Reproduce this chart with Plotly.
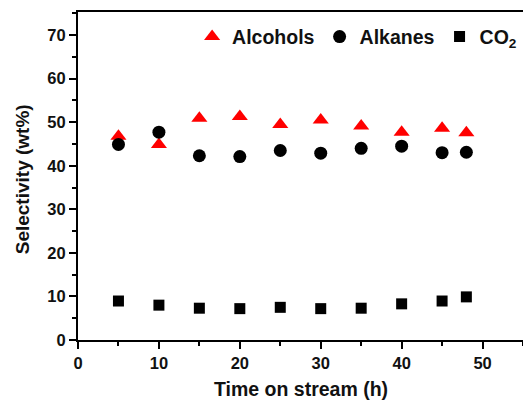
import plotly.graph_objects as go

time_h = [5, 10, 15, 20, 25, 30, 35, 40, 45, 48]
alcohols = [46.8, 44.9, 50.9, 51.3, 49.5, 50.5, 49.1, 47.7, 48.6, 47.6]
alkanes = [44.9, 47.7, 42.3, 42.1, 43.5, 42.9, 44.0, 44.5, 43.0, 43.1]
co2 = [8.95, 8.0, 7.3, 7.2, 7.5, 7.2, 7.3, 8.3, 8.95, 9.9]

x_ticks = [0, 10, 20, 30, 40, 50]
y_ticks = [0, 10, 20, 30, 40, 50, 60, 70]

FONT = "Liberation Sans, Arial, sans-serif"

fig = go.Figure()
fig.add_trace(go.Scatter(x=time_h, y=alcohols, mode="markers", name="Alcohols",
                         marker=dict(symbol="triangle-up", size=14, color="#ff0000")))
fig.add_trace(go.Scatter(x=time_h, y=alkanes, mode="markers", name="Alkanes",
                         marker=dict(symbol="circle", size=13, color="#000000")))
fig.add_trace(go.Scatter(x=time_h, y=co2, mode="markers", name="CO<sub>2</sub>",
                         marker=dict(symbol="square", size=11, color="#000000")))

axis_common = dict(
    showgrid=False, zeroline=False, showline=True, linecolor="#000", linewidth=2,
    ticks="outside", tickcolor="#000", tickwidth=1.5,
    tickfont=dict(family=FONT, size=16.5, color="#111", weight="bold"),
)

fig.update_xaxes(range=[0, 55], tickvals=x_ticks, ticklen=7, mirror=True,
                 minor=dict(dtick=5, ticks="outside", ticklen=4, tickcolor="#000", tickwidth=1.5),
                 **axis_common)
fig.update_yaxes(range=[0, 75.3], tickvals=y_ticks, ticklen=7, mirror=False,
                 minor=dict(dtick=5, ticks="outside", ticklen=4, tickcolor="#000", tickwidth=1.5),
                 **axis_common)

fig.update_layout(
    width=523, height=401,
    margin=dict(l=78, r=0, t=12, b=61),
    plot_bgcolor="white", paper_bgcolor="white",
    showlegend=True,
    legend=dict(orientation="h", x=0.998, xanchor="right", y=0.924, yanchor="middle",
                bgcolor="rgba(0,0,0,0)", font=dict(family=FONT, size=19.5, color="#111", weight="bold"),
                itemwidth=30),
    annotations=[
        dict(text="Time on stream (h)", xref="paper", yref="paper", x=0.5, y=0,
             yshift=-49, xanchor="center", yanchor="middle", showarrow=False,
             font=dict(family=FONT, size=19.5, color="#111", weight="bold")),
        dict(text="Selectivity (wt%)", xref="paper", yref="paper", x=0, y=0.49,
             xshift=-56, xanchor="center", yanchor="middle", showarrow=False, textangle=-90,
             font=dict(family=FONT, size=19, color="#111", weight="bold")),
    ],
)

fig.write_html("out.html")
